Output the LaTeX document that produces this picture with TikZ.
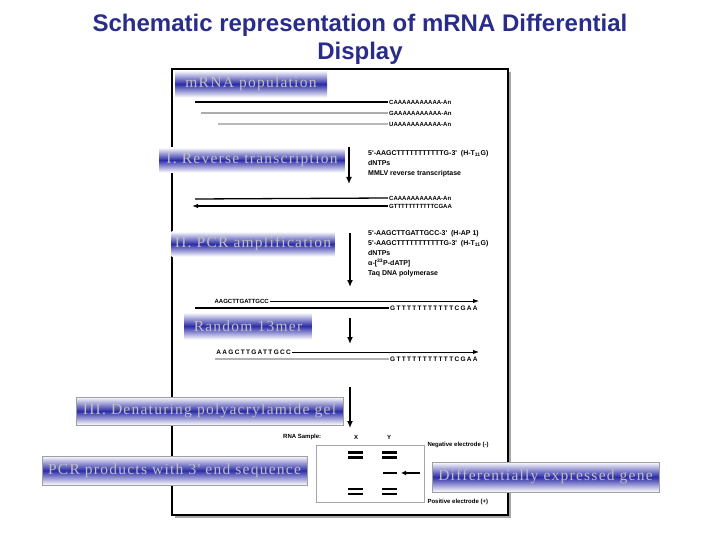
\documentclass[tikz,border=0pt]{standalone}
\usepackage{fontspec}
\setmainfont{Liberation Serif}
\newfontfamily\bannerfont[LetterSpace=8]{Liberation Serif}
\newfontfamily\seqfont{Liberation Sans}
\newfontfamily\seqwidefont[LetterSpace=20]{Liberation Sans}
\usetikzlibrary{positioning,arrows.meta,calc}
\definecolor{titleblue}{RGB}{42,44,138}
\definecolor{bannerblue}{RGB}{44,44,168}

\begin{document}
\begin{tikzpicture}[x=1pt,y=-1pt,
        banner/.style={shading=axis,top color=white,bottom color=white,middle color=bannerblue,
                font=\bannerfont\fontsize{15.5}{16}\selectfont,text=gray!50,inner sep=0pt},
        framedbanner/.style={banner,draw=gray!75,line width=0.7pt},
        seq/.style={font=\seqfont\bfseries\fontsize{6}{10}\selectfont,inner sep=1pt},
        wideseq/.style={font=\seqwidefont\bfseries\fontsize{6.5}{10}\selectfont,inner sep=1pt},
        reagent/.style={font=\seqfont\bfseries\fontsize{7}{9.9}\selectfont,inner sep=1pt,anchor=north west,align=left},
        small/.style={font=\seqfont\bfseries\fontsize{6}{8}\selectfont,inner sep=1pt},
        strand/.style={line width=1.3pt},
        tipped/.style={-{Latex[length=6pt,width=4.5pt]}},
        steparrow/.style={line width=1.8pt,-{Latex[length=7pt,width=6pt]}},
        band/.style={line width=2.2pt}]
        \useasboundingbox (0,0) rectangle (720,540);

        \node[font=\seqfont\bfseries\fontsize{24}{28}\selectfont,text=titleblue,align=center] (title) at (360,39)
                {Schematic representation of mRNA Differential\\Display};

        \draw[gray!70,line width=2pt] (175,517) -- (510,517) -- (510,72);
        \draw[line width=1.3pt] (172,69) rectangle (508,515);

        \node[seq,anchor=west] (m1) at (388,102) {CAAAAAAAAAAA-An};
        \node[seq,anchor=west] (m2) at (388,113) {GAAAAAAAAAAA-An};
        \node[seq,anchor=west] (m3) at (388,124) {UAAAAAAAAAAA-An};
        \coordinate (m1a) at (195,102);
        \coordinate (m2a) at (201,113);
        \coordinate (m3a) at (218,124);
        \draw[strand] (m1a) -- (m1.west);
        \draw[strand,gray!65] (m2a) -- (m2.west);
        \draw[strand,gray!55] (m3a) -- (m3.west);

        \node[banner,minimum width=152pt,minimum height=27pt] (mrna) at (251,84) {mRNA population};
        \node[banner,minimum width=185pt,minimum height=25pt] (rt) at (252,160) {I. Reverse transcription};

        \coordinate (d1a) at (349,147);
        \coordinate (d1b) at (349,184);
        \draw[steparrow] (d1a) -- (d1b);
        \node[reagent] (rtmix) at (367,149)
                {5'-AAGCTTTTTTTTTTTG-3'~~(H-T\textsubscript{11}G)\\dNTPs\\MMLV reverse transcriptase};

        \node[seq,anchor=west] (r1) at (388,198) {CAAAAAAAAAAA-An};
        \node[seq,anchor=west] (r2) at (388,206) {GTTTTTTTTTTTCGAA};
        \coordinate (r1a) at (195,199);
        \coordinate (r2tip) at (192,206);
        \draw[strand] (r1a) -- (r1.west);
        \draw[strand,tipped] (r2.west) -- (r2tip);

        \node[banner,minimum width=163pt,minimum height=25pt] (pcr) at (253,244) {II. PCR amplification};

        \coordinate (d2a) at (350,233);
        \coordinate (d2b) at (350,287);
        \draw[steparrow] (d2a) -- (d2b);
        \node[reagent] (pcrmix) at (367,229.5)
                {5'-AAGCTTGATTGCC-3'~~(H-AP 1)\\5'-AAGCTTTTTTTTTTTG-3'~~(H-T\textsubscript{11}G)\\dNTPs\\%
                α-[\textsuperscript{33}P-dATP]\\Taq DNA polymerase};

        \node[small,anchor=east] (p1) at (270,301) {AAGCTTGATTGCC};
        \node[wideseq,anchor=west] (p2) at (389,308) {GTTTTTTTTTTTCGAA};
        \coordinate (p1tip) at (479,301);
        \coordinate (p2a) at (195,308);
        \draw[line width=1pt,tipped] (p1.east) -- (p1tip);
        \draw[strand] (p2a) -- (p2.west);

        \node[banner,minimum width=127pt,minimum height=27pt] (rand) at (248,326) {Random 13mer};

        \coordinate (d3a) at (350,318);
        \coordinate (d3b) at (350,344);
        \draw[steparrow] (d3a) -- (d3b);

        \node[wideseq,anchor=east] (q1) at (292,352) {AAGCTTGATTGCC};
        \node[wideseq,anchor=west] (q2) at (389,359) {GTTTTTTTTTTTCGAA};
        \coordinate (q1tip) at (479,352);
        \coordinate (q2a) at (215,359);
        \draw[line width=0.9pt,tipped] (q1.east) -- (q1tip);
        \draw[line width=2.2pt,gray!60] (q2a) -- (q2.west);

        \coordinate (d4a) at (350,387);
        \coordinate (d4b) at (350,428);
        \draw[steparrow] (d4a) -- (d4b);

        \node[small,anchor=west] (sample) at (282,437) {RNA Sample:};
        \node[small] (lanex) at (356,437) {X};
        \node[small] (laney) at (389,437) {Y};

        \node[draw=gray!70,line width=0.7pt,minimum width=108pt,minimum height=57pt,inner sep=0pt] (gelbox) at (370,473.5) {};
        \node[small,anchor=west] (neg) at ([xshift=2pt]gelbox.north east) {Negative electrode (-)};
        \node[small,anchor=west] (pos) at ([xshift=2pt]gelbox.south east) {Positive electrode (+)};

        \draw[band] (348,452.5) -- (363,452.5);
        \draw[band] (348,457.5) -- (363,457.5);
        \draw[band] (348,489) -- (363,489);
        \draw[band] (348,494) -- (363,494);
        \draw[band] (382,452.5) -- (397,452.5);
        \draw[band] (382,457.5) -- (397,457.5);
        \draw[line width=1.2pt] (383,473) -- (397,473);
        \draw[band] (382,489) -- (397,489);
        \draw[band] (382,494) -- (397,494);
        \coordinate (newa) at (420,473);
        \coordinate (newb) at (401,473);
        \draw[line width=1.3pt,-{Latex[length=5pt,width=5pt]}] (newa) -- (newb);

        \node[framedbanner,minimum width=267pt,minimum height=28pt] (gel) at (209.5,411) {III. Denaturing polyacrylamide gel};
        \node[framedbanner,minimum width=265pt,minimum height=29pt] (prod) at (174.5,470.5) {PCR products with 3' end sequence};
        \node[framedbanner,minimum width=227pt,minimum height=30pt] (diff) at (545.5,477) {Differentially expressed gene};
\end{tikzpicture}
\end{document}
